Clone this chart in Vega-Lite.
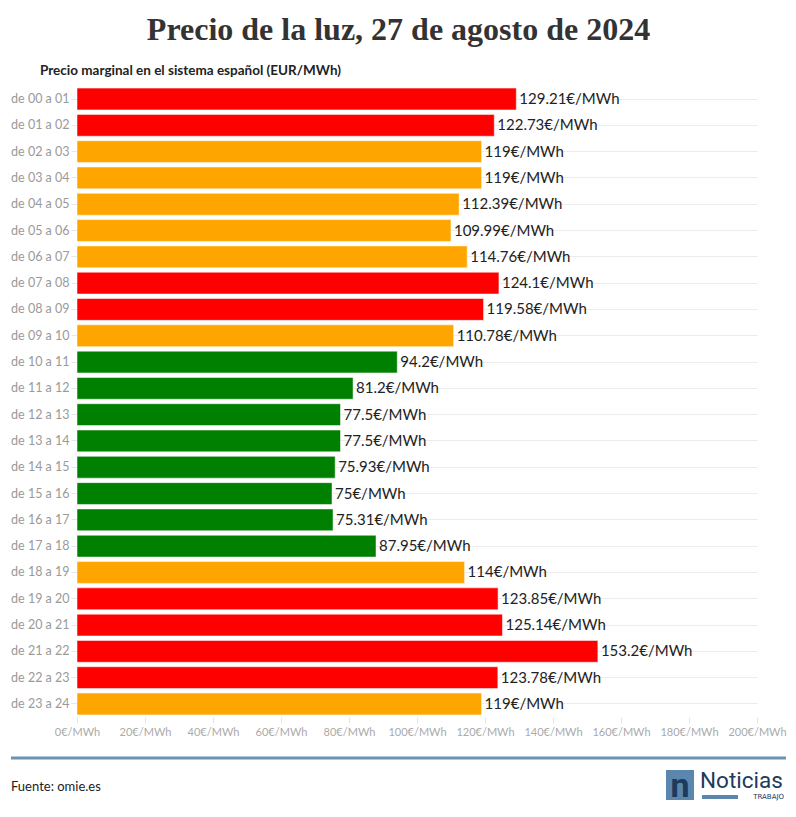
{
  "$schema": "https://vega.github.io/schema/vega-lite/v6.json",
  "padding": {"left": 9, "top": 13, "right": 10, "bottom": 0},
  "background": "white",
  "title": {"text": "Precio de la luz, 27 de agosto de 2024", "font": "Liberation Serif", "fontSize": 32, "fontWeight": "bold", "color": "#333333", "anchor": "middle", "offset": 17},
  "config": {"view": {"stroke": null}, "concat": {"spacing": 15}},
  "vconcat": [
    {
      "width": 680,
      "height": 631,
      "title": {"text": "Precio marginal en el sistema español (EUR/MWh)", "font": "Lato", "fontSize": 13.5, "fontWeight": "bold", "color": "#222222", "anchor": "start", "frame": "group", "dx": -37, "offset": 9},
      "data": {"values": [
        {"h": "de 00 a 01", "v": 129.21, "nivel": "alto"},
        {"h": "de 01 a 02", "v": 122.73, "nivel": "alto"},
        {"h": "de 02 a 03", "v": 119, "nivel": "medio"},
        {"h": "de 03 a 04", "v": 119, "nivel": "medio"},
        {"h": "de 04 a 05", "v": 112.39, "nivel": "medio"},
        {"h": "de 05 a 06", "v": 109.99, "nivel": "medio"},
        {"h": "de 06 a 07", "v": 114.76, "nivel": "medio"},
        {"h": "de 07 a 08", "v": 124.1, "nivel": "alto"},
        {"h": "de 08 a 09", "v": 119.58, "nivel": "alto"},
        {"h": "de 09 a 10", "v": 110.78, "nivel": "medio"},
        {"h": "de 10 a 11", "v": 94.2, "nivel": "bajo"},
        {"h": "de 11 a 12", "v": 81.2, "nivel": "bajo"},
        {"h": "de 12 a 13", "v": 77.5, "nivel": "bajo"},
        {"h": "de 13 a 14", "v": 77.5, "nivel": "bajo"},
        {"h": "de 14 a 15", "v": 75.93, "nivel": "bajo"},
        {"h": "de 15 a 16", "v": 75, "nivel": "bajo"},
        {"h": "de 16 a 17", "v": 75.31, "nivel": "bajo"},
        {"h": "de 17 a 18", "v": 87.95, "nivel": "bajo"},
        {"h": "de 18 a 19", "v": 114, "nivel": "medio"},
        {"h": "de 19 a 20", "v": 123.85, "nivel": "alto"},
        {"h": "de 20 a 21", "v": 125.14, "nivel": "alto"},
        {"h": "de 21 a 22", "v": 153.2, "nivel": "alto"},
        {"h": "de 22 a 23", "v": 123.78, "nivel": "alto"},
        {"h": "de 23 a 24", "v": 119, "nivel": "medio"}
      ]},
      "transform": [{"calculate": "toString(datum.v) + '€/MWh'", "as": "label"}],
      "encoding": {
        "y": {"field": "h", "type": "nominal", "sort": null, "title": null,
          "scale": {"paddingInner": 0.17, "paddingOuter": 0.08},
          "axis": {"domain": false, "labelFont": "Lato", "labelFontSize": 12.5, "labelColor": "#9a9a9a", "tickColor": "#e6e6e6", "tickSize": 6, "labelPadding": 2, "grid": true, "gridColor": "#ececec", "gridWidth": 1}},
        "x": {"field": "v", "type": "quantitative", "title": null,
          "scale": {"domain": [0, 200], "nice": false},
          "axis": {"values": [0, 20, 40, 60, 80, 100, 120, 140, 160, 180, 200], "labelExpr": "datum.value + '€/MWh'", "labelOverlap": false, "labelBound": false, "labelFlush": false, "domain": false, "grid": false, "labelFont": "Lato", "labelFontSize": 11, "labelColor": "#aaaaaa", "tickColor": "#e6e6e6", "tickSize": 6, "labelPadding": 3}}
      },
      "layer": [
        {"mark": {"type": "bar", "stroke": "#ffffff", "strokeOpacity": 0.5, "strokeWidth": 1},
          "encoding": {"color": {"field": "nivel", "type": "nominal", "legend": null,
            "scale": {"domain": ["alto", "medio", "bajo"], "range": ["#ff0000", "#ffa500", "#008000"]}}}},
        {"mark": {"type": "text", "align": "left", "baseline": "middle", "dx": 3, "font": "Lato", "fontSize": 15, "color": "#222222"},
          "encoding": {"text": {"field": "label"}}}
      ]
    },
    {
      "width": 709,
      "height": 60,
      "encoding": {},
      "layer": [
        {"data": {"values": [{"x": -66, "x2": 709, "y": 6}]},
          "mark": {"type": "rule", "color": "#6a93b5", "strokeWidth": 3, "clip": false},
          "encoding": {"x": {"field": "x", "type": "quantitative", "scale": {"domain": [0, 709], "nice": false, "zero": false}, "axis": null},
            "x2": {"field": "x2"},
            "y": {"field": "y", "type": "quantitative", "scale": {"domain": [0, 60], "reverse": true, "nice": false}, "axis": null}}},
        {"data": {"values": [{"x": -66, "y": 35, "t": "Fuente: omie.es"}]},
          "mark": {"type": "text", "align": "left", "baseline": "middle", "font": "Lato", "fontSize": 13, "color": "#222222"},
          "encoding": {"x": {"field": "x", "type": "quantitative"}, "y": {"field": "y", "type": "quantitative"}, "text": {"field": "t"}}},
        {"data": {"values": [{"x": 589, "x2": 617, "y": 18, "y2": 48}, {"x": 625, "x2": 661, "y": 43, "y2": 47}]},
          "mark": {"type": "rect", "color": "#5b87ae"},
          "encoding": {"x": {"field": "x", "type": "quantitative"}, "x2": {"field": "x2"}, "y": {"field": "y", "type": "quantitative"}, "y2": {"field": "y2"}}},
        {"data": {"values": [{"x": 603, "y": 35, "t": "n"}]},
          "mark": {"type": "text", "align": "center", "baseline": "middle", "font": "Roboto", "fontSize": 34, "fontWeight": "bold", "color": "#1e3a5c"},
          "encoding": {"x": {"field": "x", "type": "quantitative"}, "y": {"field": "y", "type": "quantitative"}, "text": {"field": "t"}}},
        {"data": {"values": [{"x": 623, "y": 29, "t": "Noticias"}]},
          "mark": {"type": "text", "align": "left", "baseline": "middle", "font": "Roboto", "fontSize": 22.5, "color": "#1e3a5c"},
          "encoding": {"x": {"field": "x", "type": "quantitative"}, "y": {"field": "y", "type": "quantitative"}, "text": {"field": "t"}}},
        {"data": {"values": [{"x": 707, "y": 45, "t": "TRABAJO"}]},
          "mark": {"type": "text", "align": "right", "baseline": "middle", "font": "DejaVu Sans", "fontSize": 7, "color": "#1e3a5c"},
          "encoding": {"x": {"field": "x", "type": "quantitative"}, "y": {"field": "y", "type": "quantitative"}, "text": {"field": "t"}}}
      ]
    }
  ]
}
